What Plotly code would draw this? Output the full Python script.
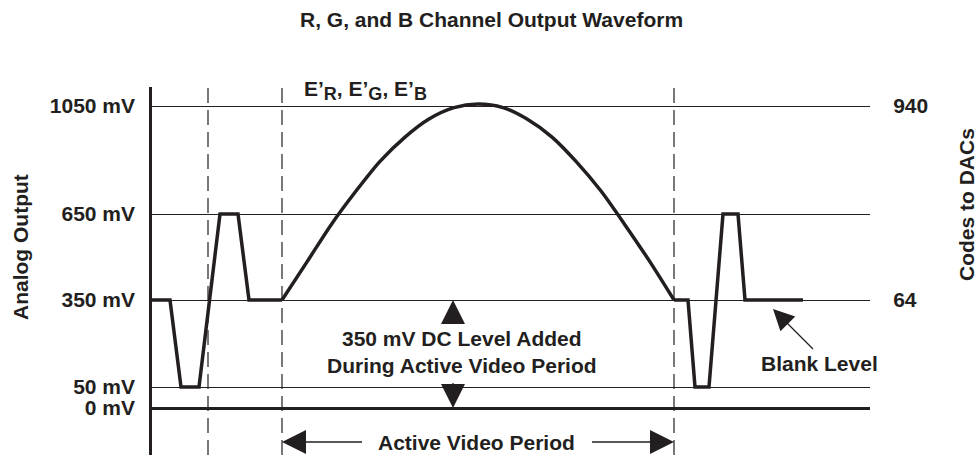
import numpy as np
import plotly.graph_objects as go

# Reference levels of the analog output (mV) and their axis labels
LEVELS_MV = [0, 50, 350, 650, 1050]
LEVEL_LABELS = ["0 mV", "50 mV", "350 mV", "650 mV", "1050 mV"]

# DAC input codes at the blank and peak levels
CODE_LEVELS_MV = [350, 1050]
CODE_LABELS = ["64", "940"]

# Timing markers (dashed) and the active video window
MARKER_TIMES = [56, 130, 522]
ACTIVE_START = 130
ACTIVE_END = 522

# Blanking before the active period: blank, sync tip, pulse, blank
T_FRONT = [0, 18, 29, 47, 68, 86, 97, 130]
MV_FRONT = [350, 350, 50, 50, 650, 650, 350, 350]

# Active video: E'R / E'G / E'B sweep up to peak white and back
T_ACTIVE = [130, 155, 179, 204, 228, 253, 277, 302, 326,
            351, 375, 400, 424, 449, 473, 498, 522]
MV_ACTIVE = [350, 483, 612, 735, 845, 935, 1002, 1044, 1057,
             1044, 1002, 935, 845, 735, 612, 483, 350]

# Blanking after the active period
T_BACK = [522, 536, 543, 557, 571, 586, 593, 651]
MV_BACK = [350, 350, 50, 50, 650, 650, 350, 350]

# Point on the blank level picked out by the "Blank Level" callout
BLANK_CALLOUT_T = 621

# ---------------------------------------------------------------------------
# The diagram is not to scale: each reference level has its own vertical slot
LEVEL_SLOTS = [0, 21, 108, 194, 302]


def ypos(mv):
    mv = np.asarray(mv, dtype=float)
    y = np.interp(mv, LEVELS_MV, LEVEL_SLOTS)
    top_slope = (LEVEL_SLOTS[-1] - LEVEL_SLOTS[-2]) / (LEVELS_MV[-1] - LEVELS_MV[-2])
    over = LEVEL_SLOTS[-1] + (mv - LEVELS_MV[-1]) * top_slope
    return np.where(mv > LEVELS_MV[-1], over, y)


FONT = "Liberation Sans, Arial, Helvetica, sans-serif"
INK = "#231f20"
FS = 21
W, H = 977, 455
L, R, T, B = 152, 107, 87, 0
Y_RANGE = [-47, 321]
X_RANGE = [0, 718]


def fx(xp):
    # figure pixel column -> paper x
    return (xp - L) / (W - L - R)


def fy(yp):
    # figure pixel row -> paper y
    return (H - B - yp) / (H - T - B)


def tfont(size=FS):
    return dict(family=FONT, size=size, color=INK, weight="bold")


fig = go.Figure()

line_style = dict(color=INK, width=3.5)
fig.add_trace(go.Scatter(x=T_FRONT, y=ypos(MV_FRONT).tolist(), mode="lines",
                         line=line_style, hoverinfo="skip", showlegend=False))
fig.add_trace(go.Scatter(x=T_ACTIVE, y=ypos(MV_ACTIVE).tolist(), mode="lines",
                         line=dict(color=INK, width=3.5, shape="spline", smoothing=0.8),
                         hoverinfo="skip", showlegend=False))
fig.add_trace(go.Scatter(x=T_BACK, y=ypos(MV_BACK).tolist(), mode="lines",
                         line=line_style, hoverinfo="skip", showlegend=False))
# carries the DAC code axis on the right
fig.add_trace(go.Scatter(x=[X_RANGE[0]] * len(CODE_LEVELS_MV),
                         y=ypos(CODE_LEVELS_MV).tolist(), yaxis="y2",
                         mode="markers", marker=dict(opacity=0),
                         hoverinfo="skip", showlegend=False))

# dashed timing markers
for t in MARKER_TIMES:
    fig.add_shape(type="line", xref="x", yref="paper", x0=t, x1=t, y0=0, y1=1,
                  line=dict(color=INK, width=1.2, dash="15px,7px"), layer="below")

# ---- callout arrows: thin shafts (shapes) with filled heads (arrow markers)
blank_y = float(ypos(350))
zero_y = float(ypos(0))
dc_x = (ACTIVE_START + ACTIVE_END) / 2 - 25
span_y = -34
blank_tip = (BLANK_CALLOUT_T, blank_y - 9)

shafts = [
    ((dc_x, blank_y - 23), (dc_x, blank_y - 6)),
    ((dc_x, zero_y + 25), (dc_x, zero_y + 6)),
    ((ACTIVE_START + 80, span_y), (ACTIVE_START + 6, span_y)),
    ((ACTIVE_END - 82, span_y), (ACTIVE_END - 6, span_y)),
    ((blank_tip[0] + 40, blank_tip[1] - 40), (blank_tip[0] + 4, blank_tip[1] - 4)),
]
for (x0, y0), (x1, y1) in shafts:
    fig.add_shape(type="line", xref="x", yref="y", x0=x0, y0=y0, x1=x1, y1=y1,
                  line=dict(color=INK, width=1.3))

heads = [
    (dc_x, blank_y, "arrow-up", 0, 24),
    (dc_x, zero_y, "arrow-down", 0, 24),
    (ACTIVE_START, span_y, "arrow-left", 0, 24),
    (ACTIVE_END, span_y, "arrow-right", 0, 24),
    (blank_tip[0], blank_tip[1], "arrow-up", -45, 21),
]
fig.add_trace(go.Scatter(
    x=[h[0] for h in heads], y=[h[1] for h in heads], mode="markers",
    marker=dict(symbol=[h[2] for h in heads], angle=[h[3] for h in heads],
                size=[h[4] for h in heads], color=INK, opacity=1,
                line=dict(width=0)),
    cliponaxis=False, hoverinfo="skip", showlegend=False))

annotations = []

# title and axis titles
annotations.append(dict(text="R, G, and B Channel Output Waveform", xref="paper", yref="paper",
                        x=fx(491.5), y=fy(20), xanchor="center", yanchor="middle",
                        showarrow=False, font=tfont()))
annotations.append(dict(text="Analog Output", xref="paper", yref="paper",
                        x=fx(20), y=fy(247), textangle=-90, xanchor="center", yanchor="middle",
                        showarrow=False, font=tfont()))
annotations.append(dict(text="Codes to DACs", xref="paper", yref="paper",
                        x=fx(966), y=fy(205), textangle=-90, xanchor="center", yanchor="middle",
                        showarrow=False, font=tfont()))

# signal name
sub = '<sub><span style="font-size:18px">{}</span></sub>'
annotations.append(dict(text="E’" + sub.format("R") + ", E’" + sub.format("G") + ", E’" + sub.format("B"),
                        xref="paper", yref="paper", x=fx(302), y=fy(90),
                        xanchor="left", yanchor="middle", showarrow=False, font=tfont()))

annotations.append(dict(text="350 mV DC Level Added<br>During Active Video Period",
                        xref="x", yref="y", x=dc_x + 8.5, y=(blank_y + zero_y) / 2 + 2,
                        xanchor="center", yanchor="middle", showarrow=False,
                        font=tfont(), align="center"))
annotations.append(dict(text="Active Video Period", xref="x", yref="y",
                        x=(ACTIVE_START + ACTIVE_END) / 2 - 1.5, y=span_y,
                        xanchor="center", yanchor="middle", showarrow=False, font=tfont()))
annotations.append(dict(text="Blank Level", xref="x", yref="y",
                        x=BLANK_CALLOUT_T + 46, y=blank_y - 63,
                        xanchor="center", yanchor="middle", showarrow=False, font=tfont()))

fig.update_layout(
    width=W, height=H,
    margin=dict(l=L, r=R, t=T, b=B, pad=0),
    paper_bgcolor="white", plot_bgcolor="white",
    font=tfont(),
    showlegend=False,
    xaxis=dict(range=X_RANGE, showgrid=False, zeroline=False, showline=False,
               showticklabels=False, ticks="", fixedrange=True),
    yaxis=dict(range=Y_RANGE, tickmode="array",
               tickvals=ypos(LEVELS_MV).tolist(), ticktext=LEVEL_LABELS,
               showgrid=True, gridcolor=INK, gridwidth=1.2,
               zeroline=True, zerolinecolor=INK, zerolinewidth=2.5,
               showline=True, linecolor=INK, linewidth=2.5,
               ticks="outside", ticklen=10, tickcolor="rgba(0,0,0,0)",
               tickfont=tfont(), fixedrange=True),
    yaxis2=dict(range=Y_RANGE, overlaying="y", side="right", tickmode="array",
                tickvals=ypos(CODE_LEVELS_MV).tolist(), ticktext=CODE_LABELS,
                showgrid=False, zeroline=False, showline=False,
                ticks="outside", ticklen=18, tickcolor="rgba(0,0,0,0)",
                tickfont=tfont(), fixedrange=True),
    annotations=annotations,
)

fig.write_html("out.html")
